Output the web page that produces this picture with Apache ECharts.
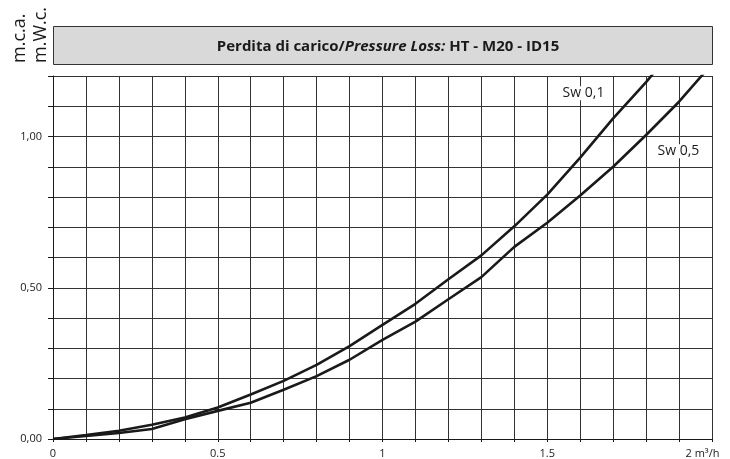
<!DOCTYPE html>
<html>
<head>
    <meta http-equiv="Content-Type" content="text/html; charset=UTF-8">
    <title>Perdita di carico</title>
    <script type="text/javascript" src="https://cdn.jsdelivr.net/npm/echarts@6/dist/echarts.min.js"></script>
    <style>
        html, body { margin: 0; padding: 0; background: #fff; }
        #view { width: 730px; height: 459px; }
    </style>
</head>
<body>
<div id="view"></div>
<script type="text/javascript">

    // portata m3/h
    var flow = [0, 0.1, 0.2, 0.3, 0.4, 0.5, 0.6, 0.7, 0.8, 0.9, 1.0,
                1.1, 1.2, 1.3, 1.4, 1.5, 1.6, 1.7, 1.8, 1.9, 2.0];
    // perdita m.c.a. - Sw 0,1
    var lossSw01 = [0, 0.013, 0.027, 0.047, 0.071, 0.104, 0.147, 0.192, 0.245, 0.307, 0.377,
                    0.447, 0.528, 0.607, 0.703, 0.808, 0.93, 1.06, 1.18, 1.31, 1.45];
    // perdita m.c.a. - Sw 0,5
    var lossSw05 = [0, 0.01, 0.02, 0.033, 0.065, 0.093, 0.12, 0.163, 0.208, 0.262, 0.328,
                    0.388, 0.462, 0.535, 0.635, 0.715, 0.805, 0.9, 1.005, 1.115, 1.24];
    var seriesNames = ['Sw 0,1', 'Sw 0,5'];
    // posizione etichette curve (coordinate dati)
    var labelSw01 = [1.61, 1.143];
    var labelSw05 = [1.898, 0.951];

    var xLabelValues = [0, 0.5, 1, 1.5, 2];
    var xLabelTexts = ['0', '0.5', '1', '1.5', '2 m³/h'];
    var yLabelValues = [0, 0.5, 1];
    var yLabelTexts = ['0,00', '0,50', '1,00'];

    var FONT = '"Open Sans", "DejaVu Sans", sans-serif';
    var INK = '#1a1a1a';
    var GRID_COL = '#333';

    function pairs(xs, ys) {
        var out = [];
        for (var i = 0; i < xs.length; i++) out.push([xs[i], ys[i]]);
        return out;
    }

    function pickLabel(values, texts, v) {
        for (var i = 0; i < values.length; i++) {
            if (Math.abs(values[i] - v) < 1e-6) return texts[i];
        }
        return '';
    }

    var myChart = echarts.init(document.getElementById('view'), null, {renderer: 'canvas'});

    function curve(name, data, lbl) {
        return {
            name: name,
            type: 'line',
            data: pairs(flow, data),
            showSymbol: false,
            symbol: 'none',
            smooth: false,
            clip: true,
            lineStyle: {color: INK, width: 2.6},
            z: 3,
            markPoint: {
                symbol: 'rect',
                symbolSize: 1,
                silent: true,
                itemStyle: {color: 'rgba(0,0,0,0)'},
                data: [{coord: lbl, value: name}],
                label: {
                    show: true,
                    position: 'inside',
                    formatter: name,
                    color: INK,
                    fontFamily: FONT,
                    fontSize: 14,
                    backgroundColor: '#fff',
                    padding: [0, 2]
                }
            }
        };
    }

    var option = {
        animation: false,
        backgroundColor: '#fff',
        title: {
            left: 383,
            top: 34,
            textAlign: 'center',
            text: '{b|Perdita di carico/}{bi|Pressure Loss:}{b| HT - M20 - ID15}',
            textStyle: {
                rich: {
                    b: {fontFamily: FONT, fontSize: 15, fontWeight: 'bold', color: INK},
                    bi: {fontFamily: FONT, fontSize: 15, fontWeight: 'bold', fontStyle: 'italic', color: INK}
                }
            }
        },
        graphic: [
            {
                type: 'rect',
                z: -1,
                shape: {x: 53.5, y: 26.5, width: 659, height: 38},
                style: {fill: '#d9d9d9', stroke: '#333', lineWidth: 1}
            },
            {
                type: 'text',
                x: 20, y: 63,
                rotation: Math.PI / 2,
                style: {text: 'm.c.a.', font: '18px ' + FONT, fill: INK,
                        textAlign: 'left', textVerticalAlign: 'middle'}
            },
            {
                type: 'text',
                x: 41, y: 63,
                rotation: Math.PI / 2,
                style: {text: 'm.W.c.', font: '18px ' + FONT, fill: INK,
                        textAlign: 'left', textVerticalAlign: 'middle'}
            }
        ],
        grid: {left: 53, right: 18, top: 76, bottom: 19, containLabel: false},
        xAxis: {
            type: 'value',
            min: 0,
            max: 2,
            interval: 0.1,
            axisLine: {show: true, lineStyle: {color: INK, width: 1}},
            axisTick: {show: true, length: 3, lineStyle: {color: INK}},
            splitLine: {show: true, lineStyle: {color: GRID_COL, width: 1}},
            axisLabel: {
                show: true,
                margin: 9,
                fontFamily: FONT,
                fontSize: 11,
                color: INK,
                formatter: function (v) {
                    var t = pickLabel(xLabelValues, xLabelTexts, v);
                    if (t.indexOf('m') >= 0) return '{u|' + t + '}';
                    return t;
                },
                rich: {
                    u: {width: 53, align: 'left', fontFamily: FONT, fontSize: 11, color: INK}
                }
            }
        },
        yAxis: {
            type: 'value',
            min: 0,
            max: 1.2,
            interval: 0.1,
            axisLine: {show: true, lineStyle: {color: INK, width: 1}},
            axisTick: {show: true, length: 5, lineStyle: {color: INK}},
            splitLine: {show: true, lineStyle: {color: GRID_COL, width: 1}},
            axisLabel: {
                show: true,
                margin: 11,
                fontFamily: FONT,
                fontSize: 11,
                color: INK,
                formatter: function (v) {
                    return pickLabel(yLabelValues, yLabelTexts, v);
                }
            }
        },
        series: [
            curve(seriesNames[0], lossSw01, labelSw01),
            curve(seriesNames[1], lossSw05, labelSw05)
        ]
    };

    myChart.setOption(option);
</script>
</body>
</html>
